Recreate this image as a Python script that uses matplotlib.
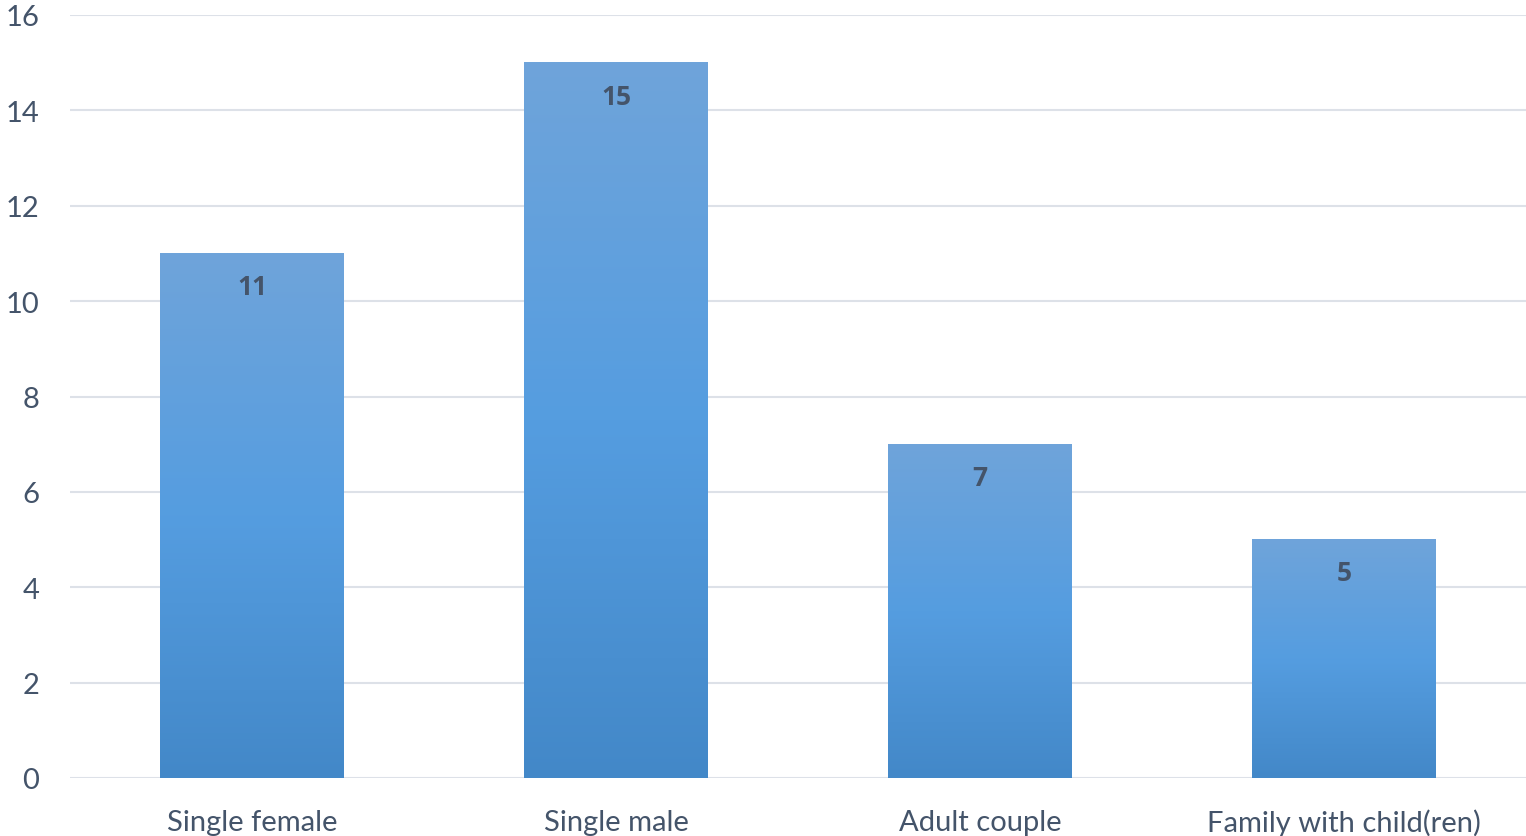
import numpy as np
import matplotlib.pyplot as plt
from matplotlib.colors import LinearSegmentedColormap

categories = ['Single female', 'Single male', 'Adult couple', 'Family with child(ren)']
counts = [11, 15, 7, 5]
y_ticks = [0, 2, 4, 6, 8, 10, 12, 14, 16]

plt.rcParams['font.family'] = ['Lato', 'DejaVu Sans']
text_col = '#44546a'
grad = LinearSegmentedColormap.from_list('bar', ['#4388c8', '#559de0', '#6fa4da'])

fig = plt.figure(figsize=(15.26, 8.37), dpi=100)
ax = fig.add_axes([70 / 1526, 58 / 837, 1 - 70 / 1526, (779 - 16) / 837])

width = 0.505
for i, v in enumerate(counts):
    g = np.linspace(0, 1, 256).reshape(-1, 1)
    ax.imshow(g, cmap=grad, origin='lower', aspect='auto', zorder=2,
              extent=[i - width / 2, i + width / 2, 0, v])
    ax.text(i, v - 0.7, str(v), ha='center', va='center', fontsize=19,
            fontweight='bold', family='Open Sans', color=text_col, zorder=3)

ax.set_xlim(-0.5, len(categories) - 0.5)
ax.set_ylim(0, 16)
ax.set_xticks(range(len(categories)))
ax.set_xticklabels(categories, fontsize=21, color=text_col)
ax.set_yticks(y_ticks)
ax.set_yticklabels([str(t) for t in y_ticks], fontsize=21, color=text_col)
ax.tick_params(length=0)
ax.tick_params(axis='x', pad=22)
ax.tick_params(axis='y', pad=22)
ax.grid(axis='y', color='#dde1e8', linewidth=1.5, zorder=0)
ax.set_axisbelow(True)
for s in ax.spines.values():
    s.set_visible(False)

fig.savefig('out.png', dpi=100)
